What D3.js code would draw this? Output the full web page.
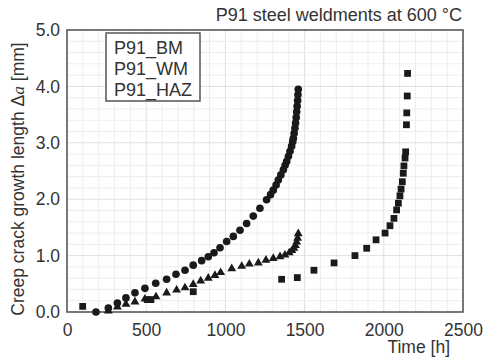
<!DOCTYPE html>
<html><head><meta charset="utf-8">
<script src="https://cdn.jsdelivr.net/npm/d3@7"></script>
<style>
html,body{margin:0;padding:0;background:#fff;}
svg{display:block;}
text{font-family:"Liberation Sans",Arial,sans-serif;fill:#333;}
</style></head>
<body><svg id="c" width="484" height="361"></svg>
<script>
const title = "P91 steel weldments at 600 °C";
const seriesNames = ["P91_BM","P91_WM","P91_HAZ"];
const xTicks = [0,500,1000,1500,2000,2500];
const yTicks = [0,1,2,3,4,5];

const bmTime = [183,261,318,372,429,492,560,629,688,745,797,850,892,928,966,1008,1050,1092,1134,1176,1218,1260,1285,1302,1320,1334,1350,1366,1377,1387,1398,1408,1418,1425,1429,1434,1439,1443,1447,1450,1453,1456,1458,1460];
const bmDa   = [0,0.07,0.16,0.25,0.34,0.42,0.51,0.58,0.67,0.74,0.83,0.91,0.98,1.05,1.14,1.25,1.34,1.45,1.57,1.70,1.84,1.99,2.08,2.16,2.25,2.34,2.43,2.52,2.60,2.67,2.76,2.85,2.94,3.02,3.08,3.17,3.26,3.35,3.45,3.55,3.65,3.75,3.85,3.95];

const wmTime = [261,318,372,429,492,562,629,692,745,797,844,892,934,970,1040,1103,1151,1208,1256,1302,1345,1376,1403,1420,1433,1442,1450,1456,1460];
const wmDa   = [0.02,0.09,0.14,0.18,0.23,0.27,0.34,0.39,0.43,0.49,0.55,0.60,0.65,0.70,0.77,0.81,0.85,0.87,0.92,0.95,0.98,1.01,1.05,1.09,1.13,1.18,1.24,1.31,1.39];

const hazTime = [99,507,530,797,1355,1454,1559,1686,1818,1892,1951,2008,2039,2064,2081,2092,2102,2109,2117,2123,2127,2134,2138,2143,2145,2148,2150];
const hazDa   = [0.10,0.22,0.22,0.36,0.58,0.61,0.74,0.87,1.00,1.13,1.28,1.40,1.53,1.66,1.81,1.93,2.06,2.18,2.31,2.46,2.59,2.73,2.84,3.32,3.53,3.83,4.23];

const svg = d3.select("#c");
const L=67,R=463,T=30,B=312;
const x = d3.scaleLinear().domain([0,2500]).range([L,R]);
const y = d3.scaleLinear().domain([0,5]).range([B,T]);

// grid
const g = svg.append("g");
g.selectAll("line.mx").data(d3.range(0,2501,100)).enter().append("line")
 .attr("x1",d=>x(d)).attr("x2",d=>x(d)).attr("y1",T).attr("y2",B)
 .attr("stroke",d=>d%500===0?"#e6dcdc":"#f1ecec").attr("stroke-width",1);
g.selectAll("line.my").data(d3.range(0,26).map(i=>i*0.2)).enter().append("line")
 .attr("y1",d=>y(d)).attr("y2",d=>y(d)).attr("x1",L).attr("x2",R)
 .attr("stroke",(d,i)=>i%5===0?"#e6dcdc":"#f1ecec").attr("stroke-width",1);

// axes
const xa = svg.append("g").attr("transform",`translate(0,${B})`)
 .call(d3.axisBottom(x).tickValues(xTicks).tickSize(0).tickPadding(12).tickFormat(d3.format("d")));
const ya = svg.append("g").attr("transform",`translate(${L},0)`)
 .call(d3.axisLeft(y).tickValues(yTicks).tickSize(0).tickPadding(7).tickFormat(d3.format(".1f")));
[xa,ya].forEach(a=>{a.select(".domain").remove();a.selectAll("text").style("font-size","17.5px").attr("fill","#333");});

// border
svg.append("rect").attr("x",L).attr("y",T).attr("width",R-L).attr("height",B-T)
 .attr("fill","none").attr("stroke","#5a5a5a").attr("stroke-width",1.6);

// data
const mk = "#1a1a1a";
const sym = (type,size)=>d3.symbol().type(type).size(size)();
function plot(ts,vs,type,size){
  svg.append("g").selectAll("path").data(ts.map((t,i)=>[t,vs[i]])).enter().append("path")
   .attr("d",sym(type,size)).attr("fill",mk)
   .attr("transform",d=>`translate(${x(d[0])},${y(d[1])})`);
}
plot(hazTime,hazDa,d3.symbolSquare,46);
plot(wmTime,wmDa,d3.symbolTriangle,34);
plot(bmTime,bmDa,d3.symbolCircle,46);

// legend
const lg = svg.append("g");
lg.append("rect").attr("x",106).attr("y",33).attr("width",94).attr("height",68)
 .attr("fill","#fff").attr("stroke","#555").attr("stroke-width",1.5);
lg.selectAll("text").data(seriesNames).enter().append("text")
 .attr("x",114).attr("y",(d,i)=>53.5+i*21).style("font-size","18px").text(d=>d);

// title
svg.append("text").attr("x",462).attr("y",21).attr("text-anchor","end").style("font-size","18px").text(title);
// x label
svg.append("text").attr("x",450).attr("y",353).attr("text-anchor","end").style("font-size","17.5px").text("Time [h]");
// y label
const yl = svg.append("text").attr("transform","translate(24,179) rotate(-90)").attr("text-anchor","middle").style("font-size","17.5px");
yl.append("tspan").text("Creep crack growth length Δ");
yl.append("tspan").style("font-family","'Liberation Serif',serif").style("font-style","italic").text("a");
yl.append("tspan").text(" [mm]");
</script></body></html>
